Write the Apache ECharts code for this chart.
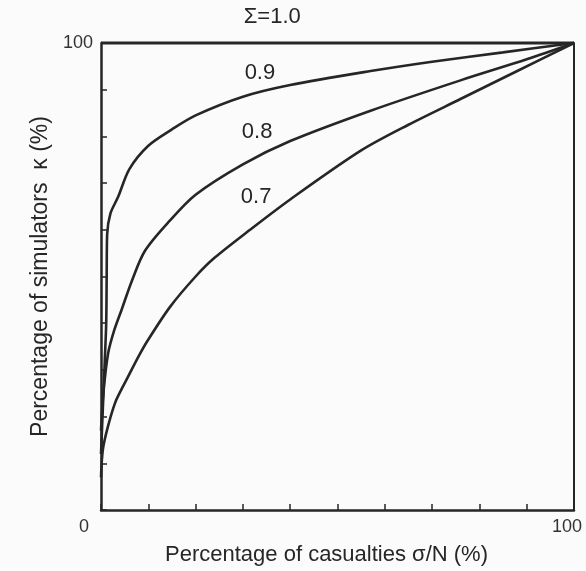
<!DOCTYPE html>
<html>
<head>
<meta charset="utf-8">
<script src="https://cdn.jsdelivr.net/npm/echarts@6/dist/echarts.min.js"></script>
<style>
  html, body { margin: 0; padding: 0; background: #fbfbfb; }
  #chart { width: 586px; height: 571px; }
</style>
</head>
<body>
<div id="chart"></div>
<script>
// casualties sigma/N (%) and simulators kappa (%) for each Sigma
const sigma10 = [0, 100];
const kappa10 = [100, 100];

const sigma09 = [0, 0.4, 0.8, 1.1, 1.2, 1.3, 2, 3.6, 6, 10, 15, 20, 30, 40, 57, 70, 85, 100];
const kappa09 = [12, 22, 32, 40, 50, 59, 63.5, 67, 73, 78, 81.5, 84.5, 88.5, 91, 94, 96, 98, 100];

const sigma08 = [0, 0.5, 1.5, 2.8, 4.4, 6.5, 9.3, 14.6, 20, 30, 40, 57, 76, 90, 100];
const kappa08 = [17, 25, 33.5, 38.5, 43, 49, 55.5, 62, 67.5, 74, 79, 85.5, 92, 96.5, 100];

const sigma07 = [0, 0.4, 1.5, 3, 4.4, 5.7, 8, 10, 14.6, 20, 24, 31.5, 40, 55, 65, 76, 88, 100];
const kappa07 = [7, 13, 18, 23, 26, 28.5, 33, 36.5, 43.5, 50, 54, 60, 66.5, 77, 82.5, 88, 94, 100];

const curveNames = ['\u03A3=1.0', '0.9', '0.8', '0.7'];

const ink = '#262626';
const font = 'Liberation Sans, Arial, sans-serif';

const pairs = (xs, ys) => xs.map((x, i) => [x, ys[i]]);

// text tag sitting at a data coordinate (dy shifts it in pixels)
const tag = (text, coord, dy) => ({
    symbol: 'circle',
    symbolSize: 1,
    silent: true,
    itemStyle: { color: 'rgba(0,0,0,0)' },
    label: {
        show: true,
        position: 'inside',
        offset: [0, dy || 0],
        formatter: text,
        color: ink,
        fontFamily: font,
        fontSize: 22
    },
    data: [{ coord: coord }]
});

const curve = (name, xs, ys, width, mark) => ({
    name: name,
    type: 'line',
    data: pairs(xs, ys),
    smooth: 0.3,
    showSymbol: false,
    clip: false,
    lineStyle: { color: ink, width: width },
    markPoint: mark
});

const chart = echarts.init(document.getElementById('chart'));
chart.setOption({
    backgroundColor: '#fbfbfb',
    animation: false,
    grid: { left: 101, right: 12, top: 43, bottom: 59 },
    xAxis: {
        type: 'value',
        min: 0,
        max: 100,
        interval: 10,
        name: 'Percentage of casualties \u03C3/N (%)',
        nameLocation: 'middle',
        nameGap: 34,
        nameTextStyle: { color: ink, fontFamily: font, fontSize: 22, padding: [0, 22, 0, 0] },
        axisLine: { lineStyle: { color: ink, width: 2.5 } },
        axisTick: { inside: true, length: 6, lineStyle: { color: ink, width: 1.5 } },
        splitLine: { show: false },
        axisLabel: {
            margin: 8,
            color: '#333',
            fontFamily: font,
            fontSize: 18,
            formatter: v => v === 0 ? '{a|0}' : v === 100 ? '{b|100}' : '',
            rich: {
                a: { padding: [0, 34, 0, 0], fontSize: 18, fontFamily: font, color: '#333' },
                b: { padding: [0, 14, 0, 0], fontSize: 18, fontFamily: font, color: '#333' }
            }
        }
    },
    yAxis: [{
        type: 'value',
        min: 0,
        max: 100,
        interval: 10,
        name: 'Percentage of simulators  \u03BA (%)',
        nameLocation: 'middle',
        nameGap: 48,
        nameTextStyle: { color: ink, fontFamily: font, fontSize: 23 },
        axisLine: { show: true, lineStyle: { color: ink, width: 2.5 } },
        axisTick: { show: true, inside: true, length: 6, lineStyle: { color: ink, width: 1.5 } },
        splitLine: { show: false },
        axisLabel: {
            margin: 8,
            color: '#333',
            fontFamily: font,
            fontSize: 18,
            formatter: v => v === 100 ? '100' : ''
        }
    }, {
        type: 'value',
        position: 'right',
        min: 0,
        max: 100,
        axisLine: { show: true, lineStyle: { color: ink, width: 2 } },
        axisTick: { show: false },
        axisLabel: { show: false },
        splitLine: { show: false }
    }],
    series: [
        curve(curveNames[0], sigma10, kappa10, 3, tag(curveNames[0], [36.2, 100], -26)),
        curve(curveNames[1], sigma09, kappa09, 2.6, tag(curveNames[1], [33.6, 93.6])),
        curve(curveNames[2], sigma08, kappa08, 2.6, tag(curveNames[2], [33.0, 81.0])),
        curve(curveNames[3], sigma07, kappa07, 2.6, tag(curveNames[3], [32.8, 67.0]))
    ]
});
</script>
</body>
</html>
